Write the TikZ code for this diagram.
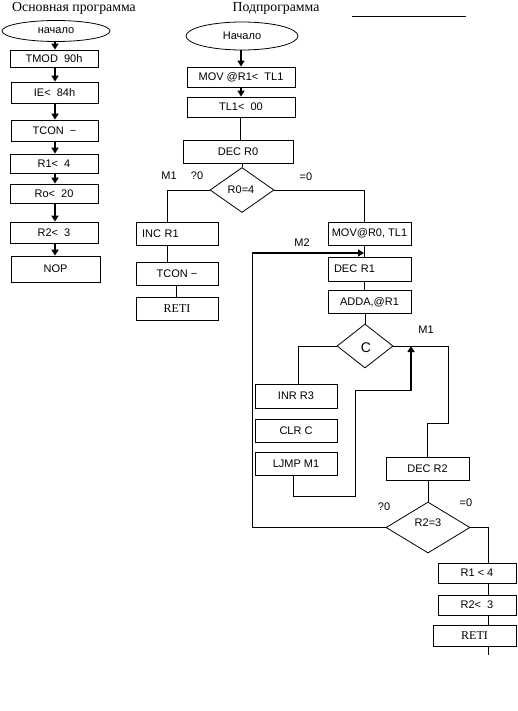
\documentclass[tikz,border=0pt]{standalone}
\usepackage{fontspec}
\setmainfont{Liberation Serif}
\setsansfont{Liberation Sans}
\usetikzlibrary{shapes.geometric,arrows.meta}

\begin{document}
\begin{tikzpicture}
  [x=1pt,y=-1pt,line width=0.8pt,
   every node/.style={inner sep=0pt,font=\sffamily\fontsize{11}{13}\selectfont},
   blok/.style={draw,rectangle,minimum width=82,minimum height=23},
   oval/.style={draw,ellipse},
   romb/.style={draw,diamond},
   strelka/.style={line width=1.8pt,-{Triangle[length=6pt,width=7pt]}}]
  \useasboundingbox (0,0) rectangle (517,711);

  % titles
  \node[font=\rmfamily\fontsize{13.8}{16}\selectfont] (t1) at (74,8) {Основная программа};
  \node[font=\rmfamily\fontsize{13.8}{16}\selectfont] (t2) at (276,8) {Подпрограмма};
  \draw (352,16) -- (466,16);

  % main program
  \node[oval,minimum width=108,minimum height=21] (s1) at (56,31) {начало};
  \node[blok,minimum width=88,minimum height=17] (a1) at (54,58.5) {TMOD\ \ 90h};
  \node[blok,minimum width=87,minimum height=21] (a2) at (54.5,92.5) {IE<\ \ 84h};
  \node[blok,minimum width=87,minimum height=21] (a3) at (54.5,130.5) {TCON\ \ −};
  \node[blok,minimum width=88,minimum height=19] (a4) at (54,163.5) {R1<\ \ 4};
  \node[blok,minimum width=88,minimum height=19] (a5) at (54,193.5) {Ro<\ \ 20};
  \node[blok,minimum width=88,minimum height=21] (a6) at (54,232.5) {R2<\ \ 3};
  \node[blok,minimum width=89,minimum height=26] (a7) at (55.5,269) {NOP};

  \foreach \from/\to in {s1/a1,a1/a2,a2/a3,a3/a4,a4/a5,a5/a6,a6/a7}
    \draw[strelka] (\from.south -| 55,0) -- (\to.north -| 55,0);

  % subroutine
  \node[oval,minimum width=112,minimum height=28] (s2) at (242,36) {Начало};
  \node[blok,minimum width=108,minimum height=20] (b1) at (241,77) {MOV @R1<\ \ TL1};
  \node[blok,minimum width=108,minimum height=20] (b2) at (241,107) {TL1<\ \ 00};
  \node[blok,minimum width=110,minimum height=23] (b3) at (238,151.5) {DEC R0};
  \node[romb,minimum width=64,minimum height=45] (d1) at (242,190) {};
  \node (d1t) at (241,190) {R0=4};

  \node[blok,text width=70,align=left] (c1) at (177,233.5) {INC R1};
  \node[blok] (c2) at (177,273.5) {TCON −};
  \node[blok,font=\rmfamily\fontsize{12}{14}\selectfont] (c3) at (177,308.5) {RETI};

  \node[blok,minimum width=83] (e1) at (369.5,233.5) {MOV@R0, TL1};
  \node[blok,minimum width=83,minimum height=24,text width=71,align=left] (e2) at (369.5,269) {DEC R1};
  \node[blok,minimum width=83] (e3) at (369.5,302) {ADDA,@R1};
  \node[romb,minimum width=56,minimum height=44,font=\sffamily\fontsize{14}{16}\selectfont] (dc) at (365,346) {};
  \node[font=\sffamily\fontsize{14}{16}\selectfont] (dct) at (366,348) {C};

  \node[blok,minimum height=24] (f1) at (296,396) {INR R3};
  \node[blok] (f2) at (296,430.5) {CLR C};
  \node[blok] (f3) at (296,464) {LJMP M1};

  \node[blok,minimum width=83] (g1) at (427.5,468.5) {DEC R2};
  \node[romb,minimum width=84,minimum height=51] (d2) at (428,527.5) {};
  \node (d2t) at (428,523) {R2=3};

  \node[blok,minimum width=78,minimum height=20] (h1) at (477,573) {R1 < 4};
  \node[blok,minimum width=78,minimum height=20] (h2) at (477,605) {R2<\ \ 3};
  \node[blok,minimum width=83,minimum height=21,font=\rmfamily\fontsize{12}{14}\selectfont] (h3) at (474.5,636) {RETI};
  \coordinate (kon) at (488,655);
  \coordinate (m2) at (364,253);
  \coordinate (m1) at (411,346);

  % labels
  \node (l1) at (169,176) {M1};
  \node (l2) at (197,176) {?0};
  \node (l3) at (306,177) {=0};
  \node (l4) at (302,243) {M2};
  \node (l5) at (426,330) {M1};
  \node (l6) at (384,507) {?0};
  \node (l7) at (466,503) {=0};

  % connectors
  \draw[strelka] (s2.south -| 241,0) -- (b1.north -| 241,0);
  \draw[strelka] (b1.south -| 241,0) -- (b2.north -| 241,0);
  \draw (b2.south -| 240,0) -- (b3.north -| 240,0);
  \draw (b3.south -| 242,0) -- (d1.north);
  \draw (d1.west) -| (c1.north -| 167,0);
  \draw (c1.south -| 167,0) -- (c2.north -| 167,0);
  \draw (c2.south -| 176,0) -- (c3.north -| 176,0);
  \draw (d1.east) -| (e1.north -| 364,0);
  \draw (e1.south -| 364,0) -- (e2.north -| 364,0);
  \draw (e2.south -| 364,0) -- (e3.north -| 364,0);
  \draw (e3.south -| 365,0) -- (dc.north);
  \draw (dc.west) -| (f1.north -| 298,0);
  \draw (f3.south -| 293,0) -- (293,496) -- (355,496) -- (355,390) -- (411,390);
  \draw[strelka] (411,391) -- (m1);
  \draw (dc.east) -- (448,346) -- (448,423) -| (g1.north -| 427,0);
  \draw (g1.south -| 428,0) -- (d2.north);
  \draw (d2.west) -| (252,253);
  \draw[strelka] (252,253) -- (m2);
  \draw (d2.east) -| (h1.north -| 488,0);
  \draw (h1.south -| 488,0) -- (h2.north -| 488,0);
  \draw (h2.south -| 488,0) -- (h3.north -| 488,0);
  \draw (h3.south -| 488,0) -- (kon);
\end{tikzpicture}
\end{document}
